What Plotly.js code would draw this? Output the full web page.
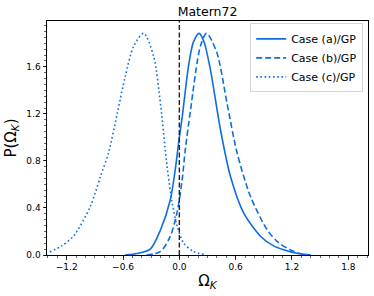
<!DOCTYPE html>
<html>
<head>
<meta charset="utf-8">
<script src="https://cdn.plot.ly/plotly-3.0.1.min.js"></script>
<style>html,body{margin:0;padding:0;background:#fff;}#chart{width:374px;height:296px;}</style>
</head>
<body>
<div id="chart"></div>
<script>
var caseAx = [-0.58,-0.45,-0.31,-0.2,-0.096,-0.043,-0.007,0.03,0.1,0.15,0.21,0.26,0.33,0.437,0.544,0.686,0.864,1.0,1.11,1.25,1.4];
var caseAy = [0,0.012,0.05,0.215,0.47,0.73,0.96,1.17,1.62,1.81,1.885,1.82,1.58,1.07,0.67,0.357,0.16,0.08,0.045,0.015,0];

var caseBx = [-0.35,-0.2,-0.096,-0.025,0.03,0.064,0.117,0.224,0.29,0.40,0.508,0.615,0.757,0.935,1.05,1.18,1.3,1.4];
var caseBy = [0,0.03,0.16,0.36,0.64,0.9,1.22,1.775,1.885,1.72,1.29,0.87,0.50,0.215,0.11,0.045,0.01,0];

var caseCx = [-1.38,-1.25,-1.127,-0.95,-0.84,-0.754,-0.66,-0.576,-0.487,-0.38,-0.274,-0.2,-0.13,-0.078,-0.025,0.046,0.15,0.26];
var caseCy = [0.025,0.08,0.16,0.41,0.67,0.87,1.21,1.52,1.775,1.885,1.69,1.28,0.75,0.45,0.25,0.10,0.03,0.005];

var names = ['Case (a)/GP','Case (b)/GP','Case (c)/GP'];
var xTicks = [-1.2,-0.6,0.0,0.6,1.2,1.8];
var yTicks = [0.0,0.4,0.8,1.2,1.6];

var blue = '#0b6fe3';
var font = 'DejaVu Sans, sans-serif';

var traces = [
  {x: caseAx, y: caseAy, name: names[0], mode: 'lines', line: {color: blue, width: 1.6, shape: 'spline', smoothing: 0.8}},
  {x: caseBx, y: caseBy, name: names[1], mode: 'lines', line: {color: blue, width: 1.6, dash: '6px,3px', shape: 'spline', smoothing: 0.8}},
  {x: caseCx, y: caseCy, name: names[2], mode: 'lines', line: {color: blue, width: 1.6, dash: '1.6px,2.6px', shape: 'spline', smoothing: 0.8}}
];

var layout = {
  width: 374, height: 296,
  margin: {l: 47, r: 6, t: 21, b: 41, pad: 0},
  paper_bgcolor: '#fff', plot_bgcolor: '#fff',
  font: {family: font, size: 9, color: '#000'},
  showlegend: true,
  title: {text: 'Matern72', font: {family: font, size: 12.5, color: '#000'}, x: 0.555, xanchor: 'center', y: 0.96, yanchor: 'middle'},
  xaxis: {
    range: [-1.41, 2.01], tickvals: xTicks, ticktext: xTicks.map(function(v){return (v<0?'\u2212':'')+Math.abs(v).toFixed(1);}),
    showgrid: false, zeroline: false, showline: true, linecolor: '#000', linewidth: 1, mirror: true,
    ticks: 'outside', ticklen: 3.5, tickwidth: 0.8, tickcolor: '#000',
    minor: {dtick: 0.1, tick0: 0, ticks: 'outside', ticklen: 2, tickwidth: 0.6, tickcolor: '#000', showgrid: false},
    tickfont: {family: font, size: 9, color: '#000'},
    title: {text: '\u03A9<sub><i>K</i></sub>', font: {family: font, size: 15, color: '#000'}, standoff: 4}
  },
  yaxis: {
    range: [0, 1.99], tickvals: yTicks, ticktext: yTicks.map(function(v){return v.toFixed(1);}),
    showgrid: false, zeroline: false, showline: true, linecolor: '#000', linewidth: 1, mirror: true,
    ticks: 'outside', ticklen: 3.5, tickwidth: 0.8, tickcolor: '#000',
    minor: {dtick: 0.05, tick0: 0, ticks: 'outside', ticklen: 2, tickwidth: 0.6, tickcolor: '#000', showgrid: false},
    tickfont: {family: font, size: 9, color: '#000'},
    title: {text: 'P(\u03A9<sub><i>K</i></sub>)', font: {family: font, size: 15, color: '#000'}, standoff: 6}
  },
  legend: {
    x: 0.985, xanchor: 'right', y: 0.99, yanchor: 'top',
    bgcolor: 'rgba(255,255,255,0.9)', bordercolor: '#d5d5d5', borderwidth: 1,
    font: {family: font, size: 11, color: '#000'}, itemwidth: 30, tracegroupgap: 0
  },
  shapes: [
    {type: 'line', xref: 'x', yref: 'paper', x0: 0, x1: 0, y0: 0, y1: 1, line: {color: '#222', width: 1.4, dash: '5px,2.5px'}}
  ]
};

Plotly.newPlot('chart', traces, layout, {displayModeBar: false, staticPlot: true});
</script>
</body>
</html>
